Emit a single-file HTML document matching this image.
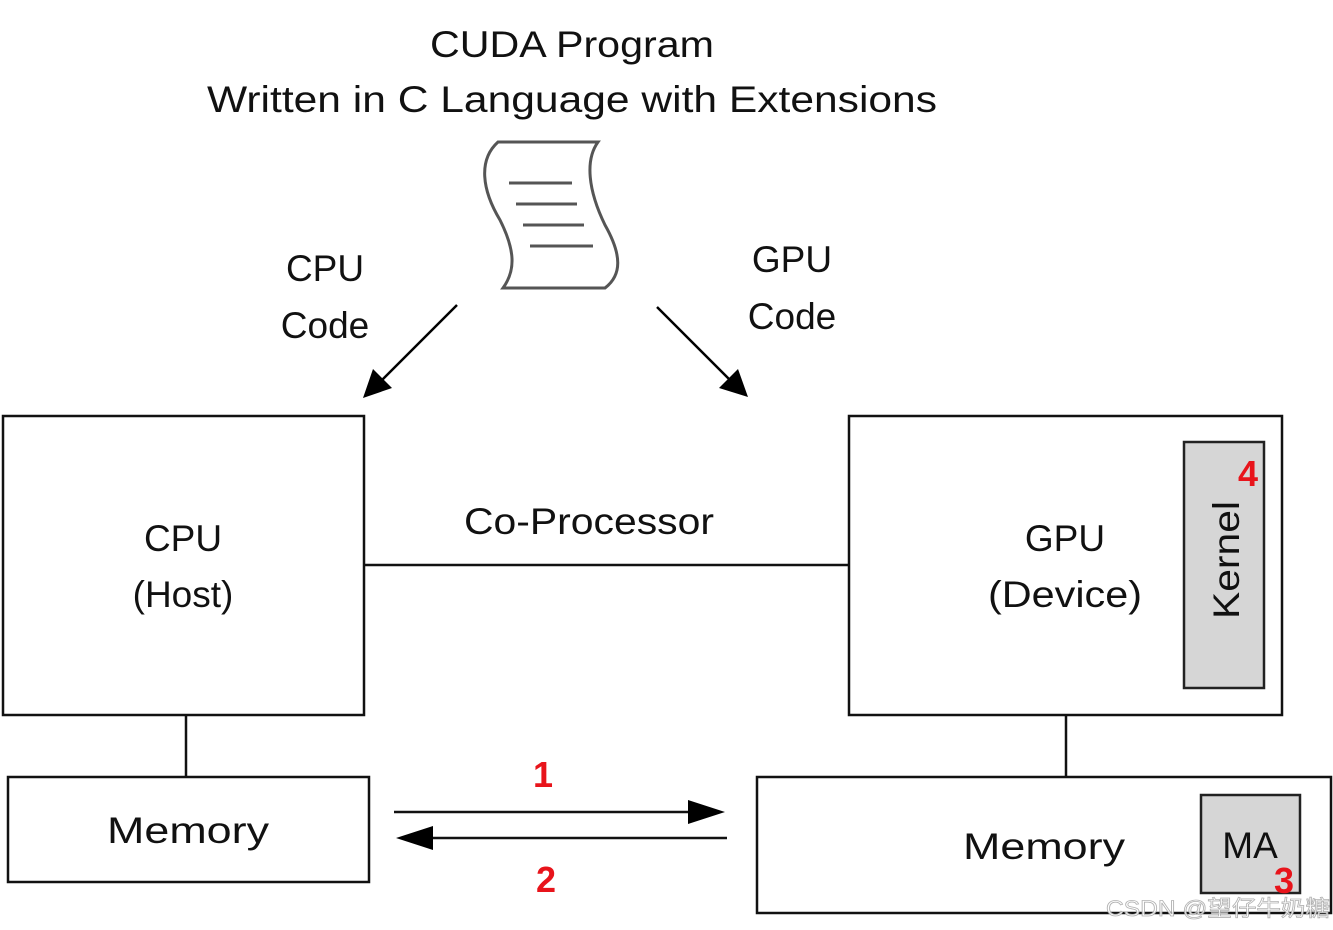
<!DOCTYPE html>
<html><head><meta charset="utf-8"><style>
html,body{margin:0;padding:0;background:#fff;}
svg{display:block;}
text{font-family:"Liberation Sans","Noto Sans CJK SC",sans-serif;fill:#111;}
</style></head><body>
<svg width="1333" height="930" viewBox="0 0 1333 930" xmlns="http://www.w3.org/2000/svg">
<rect width="1333" height="930" fill="#fff"/>
<!-- scroll -->
<path d="M498 142 L598 142 C585 160 588 190 605 225 C622 255 622 275 605 288 L503 288 C516 270 515 250 500 220 C482 190 478 160 498 142 Z" fill="#fff" stroke="#555" stroke-width="3"/>
<g stroke="#555" stroke-width="3">
<line x1="509" y1="183" x2="572" y2="183"/>
<line x1="516" y1="204" x2="577" y2="204"/>
<line x1="523" y1="225" x2="584" y2="225"/>
<line x1="530" y1="246" x2="593" y2="246"/>
</g>
<!-- diagonal arrows -->
<g stroke="#000" stroke-width="2.5">
<line x1="457" y1="305" x2="380" y2="382"/>
<line x1="657" y1="307" x2="732" y2="382"/>
</g>
<polygon points="363,398 373,369 392,388" fill="#000"/>
<polygon points="748,397 719,388 738,369" fill="#000"/>
<!-- boxes -->
<g fill="#fff" stroke="#111" stroke-width="2.5">
<rect x="3" y="416" width="361" height="299"/>
<rect x="849" y="416" width="433" height="299"/>
<rect x="8" y="777" width="361" height="105"/>
<rect x="757" y="777" width="574" height="136"/>
</g>
<g stroke="#111" stroke-width="2.5">
<line x1="364" y1="565" x2="849" y2="565"/>
<line x1="186" y1="715" x2="186" y2="777"/>
<line x1="1066" y1="715" x2="1066" y2="777"/>
<line x1="394" y1="812" x2="690" y2="812"/>
<line x1="431" y1="838" x2="727" y2="838"/>
</g>
<polygon points="725,812 688,800 688,824" fill="#000"/>
<polygon points="396,838 433,826 433,850" fill="#000"/>
<rect x="1184" y="442" width="80" height="246" fill="#d6d6d6" stroke="#222" stroke-width="2.5"/>
<rect x="1201" y="795" width="99" height="98" fill="#d6d6d6" stroke="#222" stroke-width="2.5"/>
<g font-size="37" text-anchor="middle">
<text x="572" y="57" textLength="284" lengthAdjust="spacingAndGlyphs">CUDA Program</text>
<text x="572" y="112" textLength="730" lengthAdjust="spacingAndGlyphs">Written in C Language with Extensions</text>
<text x="325" y="281">CPU</text>
<text x="325" y="338">Code</text>
<text x="792" y="272">GPU</text>
<text x="792" y="329">Code</text>
<text x="183" y="551">CPU</text>
<text x="183" y="607">(Host)</text>
<text x="589" y="534" textLength="250" lengthAdjust="spacingAndGlyphs">Co-Processor</text>
<text x="1065" y="551">GPU</text>
<text x="1065" y="607" textLength="154" lengthAdjust="spacingAndGlyphs">(Device)</text>
<text x="188" y="843" textLength="162" lengthAdjust="spacingAndGlyphs">Memory</text>
<text x="1044" y="859" textLength="162" lengthAdjust="spacingAndGlyphs">Memory</text>
<text x="1250" y="858">MA</text>
</g>
<text x="0" y="0" font-size="37" text-anchor="middle" transform="translate(1239,560) rotate(-90)" textLength="118" lengthAdjust="spacingAndGlyphs">Kernel</text>
<g font-size="36" font-weight="bold" text-anchor="middle">
<text x="1248" y="486" style="fill:#e8141b">4</text>
<text x="1284" y="893" style="fill:#e8141b">3</text>
<text x="543" y="787" style="fill:#e8141b">1</text>
<text x="546" y="892" style="fill:#e8141b">2</text>
</g>
<text x="1106" y="916" font-size="22" textLength="224" lengthAdjust="spacingAndGlyphs" style="fill:#fff;stroke:#aaa;stroke-width:0.8" opacity="0.9">CSDN @望仔牛奶糖</text>
</svg>
</body></html>
